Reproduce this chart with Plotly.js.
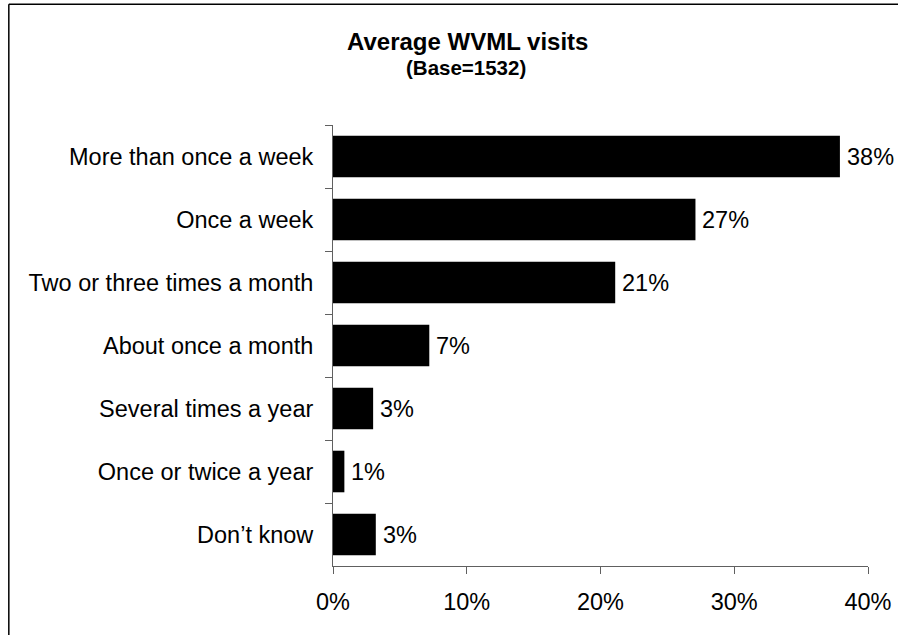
<!DOCTYPE html>
<html>
<head>
<meta charset="utf-8">
<script src="https://cdn.plot.ly/plotly-3.0.1.min.js"></script>
<style>html,body{margin:0;padding:0;background:#fff;overflow:hidden;}#chart{width:898px;height:635px;}</style>
</head>
<body>
<div id="chart"></div>
<script>
const categories = [
  "More than once a week",
  "Once a week",
  "Two or three times a month",
  "About once a month",
  "Several times a year",
  "Once or twice a year",
  "Don\u2019t know"
];
const values = [37.9, 27.1, 21.1, 7.2, 3.0, 0.85, 3.2];
const valueLabels = ["38%", "27%", "21%", "7%", "3%", "1%", "3%"];
const xTicks = [0, 10, 20, 30, 40];
const xTickLabels = ["0%", "10%", "20%", "30%", "40%"];
const titleText = "Average WVML visits";
const subtitleText = "(Base=1532)";

const FONT = "Liberation Sans, Arial, sans-serif";
const AXIS = "#606060";
const PW = 534.7, PH = 441, ML = 333, MT = 124.7;
const px2x = p => (p - ML) / PW;
const px2y = p => 1 + (MT - p) / PH;

const trace = {
  type: "bar",
  orientation: "h",
  x: values,
  y: categories,
  marker: {color: "#000000", line: {color: "#000000", width: 0}},
  hoverinfo: "x+y"
};

const annotations = categories.map((c, i) => ({
  x: values[i], y: c, xref: "x", yref: "y",
  text: valueLabels[i], showarrow: false,
  xanchor: "left", yanchor: "middle", xshift: 5,
  font: {family: FONT, size: 23.5, color: "#000"}
}));
annotations.push({
  x: px2x(467), xref: "paper", xanchor: "center", y: px2y(41), yref: "paper", yanchor: "middle",
  text: "<b>" + titleText + "</b>", showarrow: false,
  font: {family: FONT, size: 24, color: "#000"}
});
annotations.push({
  x: px2x(466), xref: "paper", xanchor: "center", y: px2y(67), yref: "paper", yanchor: "middle",
  text: "<b>" + subtitleText + "</b>", showarrow: false,
  font: {family: FONT, size: 20.5, color: "#000"}
});

const layout = {
  width: 898, height: 635,
  margin: {l: ML, r: 898 - ML - PW, t: MT, b: 635 - MT - PH, pad: 0},
  paper_bgcolor: "#fff", plot_bgcolor: "#fff",
  showlegend: false,
  bargap: 0.34,
  font: {family: FONT, color: "#000"},
  xaxis: {
    range: [0, 40], tickvals: xTicks, ticktext: xTickLabels,
    showgrid: false, zeroline: false, showline: true, linecolor: AXIS, linewidth: 1,
    ticks: "outside", ticklen: 7, tickcolor: AXIS, tickwidth: 1,
    ticklabelstandoff: 8,
    tickfont: {family: FONT, size: 23.5, color: "#000"}
  },
  yaxis: {
    type: "category", autorange: false, range: [6.5, -0.5],
    tickson: "boundaries",
    showgrid: false, zeroline: false, showline: true, linecolor: AXIS, linewidth: 1,
    ticks: "outside", ticklen: 7, tickcolor: AXIS, tickwidth: 1,
    ticklabelstandoff: 14,
    tickfont: {family: FONT, size: 23.5, color: "#000"}
  },
  annotations: annotations,
  shapes: [
    {type: "line", xref: "paper", yref: "paper",
     x0: px2x(9), x1: px2x(9), y0: px2y(700), y1: px2y(4),
     line: {color: "#000", width: 1.5}, layer: "below"},
    {type: "line", xref: "paper", yref: "paper",
     x0: px2x(9), x1: px2x(960), y0: px2y(4), y1: px2y(4),
     line: {color: "#000", width: 1.5}, layer: "below"}
  ]
};

Plotly.newPlot("chart", [trace], layout, {displayModeBar: false, staticPlot: true});
</script>
</body>
</html>
